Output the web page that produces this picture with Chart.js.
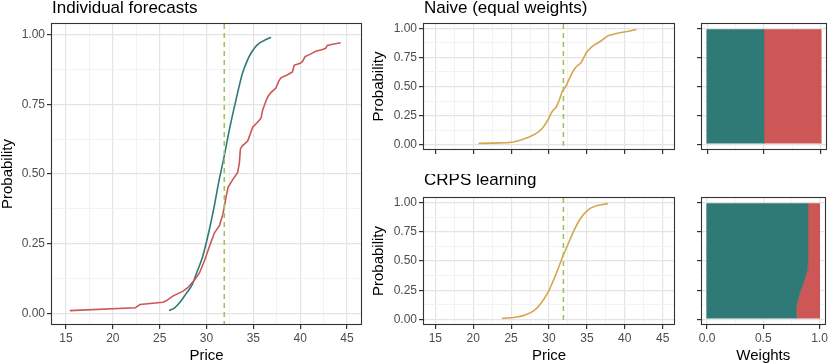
<!DOCTYPE html>
<html>
<head>
<meta charset="utf-8">
<script src="https://cdn.jsdelivr.net/npm/chart.js@4.4.1/dist/chart.umd.min.js"></script>
<style>
  body { margin: 0; background: #fff; }
  #wrap { position: relative; width: 830px; height: 363px; overflow: hidden; background: #fff; }
  canvas { position: absolute; }
</style>
</head>
<body>
<div id="wrap">
  <canvas id="indiv" width="366" height="363" style="left:0;top:0"></canvas>
  <canvas id="naive" width="308" height="160" style="left:371px;top:0"></canvas>
  <canvas id="crps" width="308" height="189" style="left:371px;top:174px"></canvas>
  <canvas id="naiveW" width="145" height="160" style="left:685px;top:0"></canvas>
  <canvas id="crpsW" width="145" height="189" style="left:685px;top:174px"></canvas>
</div>
<script>
// --- data ---
const priceTicks = [15, 20, 25, 30, 35, 40, 45];
const probTicks = [0, 0.25, 0.5, 0.75, 1];
const weightTicks = [0, 0.5, 1];
const priceLimits = [13.5, 46.5];
const probLimits = [-0.038, 1.038];
const weightLimits = [-0.045, 1.045];

const actualPrice = 31.9;

// forecast 1 (teal, smooth)
const tealPrice = [26.0, 26.6, 27.1, 27.8, 28.5, 29.0, 29.6, 30.3, 30.8, 31.3, 31.9, 32.45, 33.15, 33.85, 34.4, 34.75, 35.2, 35.65, 36.2, 36.9];
const tealProb  = [0.01, 0.02, 0.037, 0.07, 0.105, 0.15, 0.205, 0.30, 0.38, 0.47, 0.565, 0.66, 0.766, 0.862, 0.91, 0.933, 0.955, 0.969, 0.98, 0.99];

// forecast 2 (red, empirical)
const redPrice = [15.4, 22.4, 22.6, 22.9, 25.35, 25.7, 26.4, 27.5, 28.0, 28.2, 28.72, 29.26, 29.79, 30.32, 30.85, 31.38, 31.74, 31.91, 32.1, 32.3, 32.8, 33.33, 33.51, 33.62, 33.86, 34.4, 34.93, 35.4, 35.82, 36.0, 36.35, 36.6, 36.88, 37.41, 37.7, 37.95, 38.6, 39.18, 39.36, 40.0, 40.24, 40.53, 41.1, 41.67, 42.3, 42.73, 42.9, 43.6, 44.33];
const redProb  = [0.01, 0.02, 0.025, 0.032, 0.04, 0.045, 0.062, 0.08, 0.092, 0.1, 0.12, 0.146, 0.19, 0.241, 0.289, 0.315, 0.354, 0.384, 0.42, 0.452, 0.48, 0.506, 0.54, 0.59, 0.602, 0.618, 0.668, 0.684, 0.70, 0.73, 0.762, 0.78, 0.792, 0.808, 0.832, 0.845, 0.855, 0.866, 0.89, 0.897, 0.903, 0.921, 0.93, 0.94, 0.946, 0.951, 0.961, 0.966, 0.971];

// naive combination
const naivePrice = [20.7, 22.5, 24.5, 25.3, 26.3, 27.2, 28.06, 28.5, 28.95, 29.3, 29.61, 30.0, 30.27, 30.6, 30.93, 31.38, 31.73, 32.26, 32.6, 32.92, 33.3, 33.59, 34.25, 34.6, 34.91, 35.3, 35.79, 36.3, 36.9, 37.78, 38.5, 39.32, 40.5, 41.53];
const naiveProb  = [0.01, 0.013, 0.017, 0.022, 0.04, 0.06, 0.086, 0.105, 0.128, 0.155, 0.186, 0.23, 0.27, 0.30, 0.32, 0.386, 0.457, 0.506, 0.555, 0.60, 0.645, 0.67, 0.705, 0.75, 0.79, 0.82, 0.85, 0.87, 0.894, 0.937, 0.95, 0.962, 0.976, 0.991];

// CRPS learning combination
const crpsPrice = [23.8, 25.6, 26.96, 28.07, 28.95, 29.83, 30.49, 31.15, 31.81, 32.47, 33.13, 34.02, 35.12, 36.24, 37.77];
const crpsProb  = [0.01, 0.02, 0.042, 0.079, 0.14, 0.227, 0.32, 0.425, 0.538, 0.637, 0.736, 0.85, 0.935, 0.971, 0.99];

// weight of teal forecast per probability level
const naiveWeightProb = [0.01, 0.99];
const naiveWeightTeal = [0.5, 0.5];
const crpsWeightProb = [0.01, 0.06, 0.11, 0.15, 0.20, 0.24, 0.28, 0.33, 0.38, 0.42, 0.46, 0.50, 0.99];
const crpsWeightTeal = [0.792, 0.793, 0.795, 0.803, 0.816, 0.83, 0.845, 0.864, 0.88, 0.89, 0.896, 0.898, 0.898];

// --- styling ---
const FONT = "'Liberation Sans', Arial, Helvetica, sans-serif";
const TEAL = '#2F7A77';
const RED = '#CD5656';
const GOLD = '#D6A550';
const GREEN = '#9DC45F';

// panel border + title drawn on top
const panelDeco = {
    id: 'panelDeco',
    afterDraw(chart, args, opts) {
        const ctx = chart.ctx;
        const a = chart.chartArea;
        ctx.save();
        ctx.strokeStyle = '#333333';
        ctx.lineWidth = 1.1;
        ctx.strokeRect(Math.round(a.left) - 0.5, Math.round(a.top) - 0.5, Math.round(a.right - a.left) + 1, Math.round(a.bottom - a.top) + 1);
        if (opts.text) {
            ctx.font = '17px ' + FONT;
            ctx.fillStyle = '#000';
            ctx.textAlign = 'left';
            ctx.textBaseline = 'alphabetic';
            ctx.fillText(opts.text, a.left, opts.baseline);
        }
        ctx.restore();
    }
};
Chart.register(panelDeco);

function axis({ limits, major, decimals, labels, title, size }) {
    const all = [];
    for (let i = 0; i < major.length; i++) {
        all.push(major[i]);
        if (i < major.length - 1) all.push((major[i] + major[i + 1]) / 2);
    }
    const isMajor = v => major.some(m => Math.abs(m - v) < 1e-9);
    return {
        type: 'linear',
        min: limits[0],
        max: limits[1],
        afterBuildTicks: sc => { sc.ticks = all.map(v => ({ value: v })); },
        afterFit: sc => {
            if (sc.isHorizontal()) sc.height = size; else sc.width = size;
        },
        border: { display: false },
        grid: {
            color: c => isMajor(c.tick.value) ? '#E4E4E4' : '#F0F0F0',
            lineWidth: c => isMajor(c.tick.value) ? 1.2 : 0.8,
            tickColor: c => isMajor(c.tick.value) ? '#333333' : 'rgba(0,0,0,0)',
            tickLength: 5,
            drawTicks: true,
        },
        ticks: {
            autoSkip: false,
            maxRotation: 0,
            padding: 2,
            color: '#4D4D4D',
            font: { family: FONT, size: 12 },
            callback: v => (labels && isMajor(v)) ? Number(v).toFixed(decimals) : '',
        },
        title: title ? {
            display: true, text: title, color: '#000', padding: 0,
            font: { family: FONT, size: 15, lineHeight: 1 },
        } : { display: false },
    };
}

function curve(xs, ys, color, smooth) {
    return {
        data: xs.map((x, i) => ({ x: x, y: ys[i] })),
        borderColor: color,
        borderWidth: 1.6,
        pointRadius: 0,
        fill: false,
        tension: 0,
        cubicInterpolationMode: smooth ? 'monotone' : 'default',
    };
}

function vline() {
    return {
        data: [{ x: actualPrice, y: probLimits[1] }, { x: actualPrice, y: probLimits[0] }],
        borderColor: GREEN,
        borderWidth: 1.6,
        borderDash: [5, 4],
        pointRadius: 0,
        fill: false,
    };
}

function weightArea(probs, weights, outer, color) {
    const edge = probs.map((p, i) => ({ x: weights[i], y: p }));
    const pts = edge.concat([
        { x: outer, y: probs[probs.length - 1] },
        { x: outer, y: probs[0] },
    ]);
    return {
        data: pts,
        backgroundColor: color,
        borderColor: color,
        borderWidth: 0.6,
        pointRadius: 0,
        fill: 'shape',
        tension: 0,
    };
}

function makeChart(id, datasets, xOpts, yOpts, padding, titleOpts) {
    return new Chart(document.getElementById(id), {
        type: 'line',
        data: { datasets: datasets },
        options: {
            responsive: false,
            animation: false,
            devicePixelRatio: 1,
            layout: { padding: padding },
            plugins: {
                legend: { display: false },
                tooltip: { enabled: false },
                panelDeco: titleOpts || {},
            },
            scales: { x: xOpts, y: yOpts },
        },
    });
}

// Individual forecasts
makeChart('indiv',
    [vline(), curve(redPrice, redProb, RED, false), curve(tealPrice, tealProb, TEAL, true)],
    axis({ limits: priceLimits, major: priceTicks, decimals: 0, labels: true, title: 'Price', size: 39 }),
    axis({ limits: probLimits, major: probTicks, decimals: 2, labels: true, title: 'Probability', size: 52 }),
    { top: 24, right: 5, bottom: 0, left: 0 },
    { text: 'Individual forecasts', baseline: 13 });

// Naive
makeChart('naive',
    [vline(), curve(naivePrice, naiveProb, GOLD, false)],
    axis({ limits: priceLimits, major: priceTicks, decimals: 0, labels: false, title: null, size: 6 }),
    axis({ limits: probLimits, major: probTicks, decimals: 2, labels: true, title: 'Probability', size: 53 }),
    { top: 24, right: 5, bottom: 5, left: 0 },
    { text: 'Naive (equal weights)', baseline: 13 });

// CRPS learning
makeChart('crps',
    [vline(), curve(crpsPrice, crpsProb, GOLD, true)],
    axis({ limits: priceLimits, major: priceTicks, decimals: 0, labels: true, title: 'Price', size: 39 }),
    axis({ limits: probLimits, major: probTicks, decimals: 2, labels: true, title: 'Probability', size: 53 }),
    { top: 24, right: 5, bottom: 0, left: 0 },
    { text: 'CRPS learning', baseline: 10.5 });

// Weights (naive)
makeChart('naiveW',
    [weightArea(naiveWeightProb, naiveWeightTeal, 0, TEAL), weightArea(naiveWeightProb, naiveWeightTeal, 1, RED)],
    axis({ limits: weightLimits, major: weightTicks, decimals: 1, labels: false, title: null, size: 6 }),
    axis({ limits: probLimits, major: probTicks, decimals: 2, labels: false, title: null, size: 17 }),
    { top: 24, right: 4, bottom: 5, left: 0 });

// Weights (CRPS learning)
makeChart('crpsW',
    [weightArea(crpsWeightProb, crpsWeightTeal, 0, TEAL), weightArea(crpsWeightProb, crpsWeightTeal, 1, RED)],
    axis({ limits: weightLimits, major: weightTicks, decimals: 1, labels: true, title: 'Weights', size: 39 }),
    axis({ limits: probLimits, major: probTicks, decimals: 2, labels: false, title: null, size: 17 }),
    { top: 24, right: 4, bottom: 0, left: 0 });
</script>
</body>
</html>
